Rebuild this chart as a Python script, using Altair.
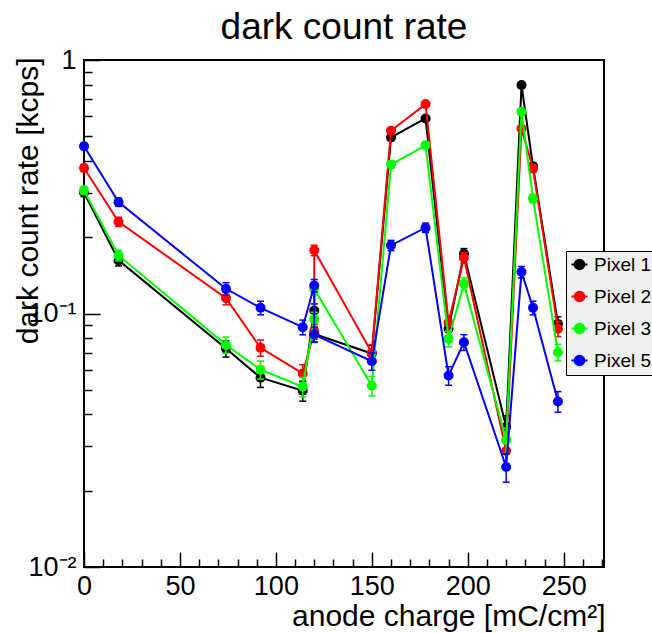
import altair as alt
import pandas as pd

# ---------------- data ----------------
charge = [0, 18, 74, 92, 114, 120, 120, 150, 160, 178, 190, 198, 220, 228, 234, 247]
series_names = ["Pixel 1", "Pixel 2", "Pixel 3", "Pixel 5"]
series_colors = ["#000000", "#ff0000", "#00ff00", "#0000ff"]

pixel1 = [0.300, 0.162, 0.0727, 0.0558, 0.0496, 0.1027, 0.083, 0.0695, 0.495, 0.588, 0.087, 0.172, 0.0357, 0.796, 0.381, 0.091]
pixel2 = [0.375, 0.230, 0.115, 0.0732, 0.058, 0.085, 0.1775, 0.070, 0.526, 0.670, 0.092, 0.166, 0.0287, 0.537, 0.373, 0.087]
pixel3 = [0.306, 0.1695, 0.0752, 0.060, 0.0514, 0.095, 0.125, 0.0519, 0.387, 0.461, 0.0794, 0.131, 0.0317, 0.625, 0.284, 0.0703]
pixel5 = [0.457, 0.275, 0.1252, 0.1053, 0.0883, 0.129, 0.0826, 0.0648, 0.1857, 0.218, 0.0569, 0.077, 0.0248, 0.1457, 0.1053, 0.045]

err1 = [0.011, 0.008, 0.0054, 0.0047, 0.0045, 0.0064, 0.0058, 0.0053, 0.014, 0.015, 0.0059, 0.0083, 0.0038, 0.018, 0.012, 0.006]
err2 = [0.0122, 0.0096, 0.0068, 0.0054, 0.0048, 0.0058, 0.0084, 0.0053, 0.0145, 0.0164, 0.0061, 0.0081, 0.0034, 0.0147, 0.0122, 0.0059]
err3 = [0.011, 0.0082, 0.0055, 0.0049, 0.0045, 0.0062, 0.0071, 0.0046, 0.0124, 0.0136, 0.0056, 0.0072, 0.0036, 0.0158, 0.0107, 0.0053]
err5 = [0.0135, 0.0105, 0.0071, 0.0065, 0.0059, 0.0072, 0.0057, 0.0051, 0.0086, 0.0093, 0.0048, 0.0055, 0.0032, 0.0076, 0.0065, 0.0042]

x_major = [0, 50, 100, 150, 200, 250]
x_minor = [10, 20, 30, 40, 60, 70, 80, 90, 110, 120, 130, 140, 160, 170, 180, 190,
           210, 220, 230, 240, 260, 270]
y_major = [0.01, 0.1, 1]
y_minor = [0.02, 0.03, 0.04, 0.05, 0.06, 0.07, 0.08, 0.09,
           0.2, 0.3, 0.4, 0.5, 0.6, 0.7, 0.8, 0.9]

# ---------------- table ----------------
rows = []
for name, vals, errs in zip(series_names, [pixel1, pixel2, pixel3, pixel5], [err1, err2, err3, err5]):
    for i, (c, v, e) in enumerate(zip(charge, vals, errs)):
        rows.append({"series": name, "idx": i, "charge": c, "rate": v, "lo": v - e, "hi": v + e})
df = pd.DataFrame(rows)

FONT = "Liberation Sans"
W, H = 520, 507

x_scale = alt.Scale(domain=[0, 271], nice=False, zero=False)
y_scale = alt.Scale(type="log", domain=[0.01, 1], nice=False)
color_scale = alt.Scale(domain=series_names, range=series_colors)

base = alt.Chart(df)

# ---------------- axis layers ----------------
label_x_axis = alt.Axis(
    orient="bottom", values=x_major, ticks=False, domain=False, grid=False,
    labelFontSize=27, labelFont=FONT, labelColor="black", labelPadding=6,
    labelFlush=False, labelOverlap=False,
    title="anode charge [mC/cm²]", titleFontSize=30, titleFont=FONT,
    titleFontWeight="normal", titleColor="black", titleAlign="right",
    titleBaseline="alphabetic", titleX=W + 1, titleY=58,
)
label_y_axis = alt.Axis(
    orient="left", values=y_major, ticks=False, domain=False, grid=False,
    labelExpr="datum.value >= 0.99 ? '1' : (datum.value >= 0.099 ? '10⁻¹' : '10⁻²')",
    labelFontSize=27, labelFont=FONT, labelColor="black", labelPadding=8,
    labelFlush=False, labelOverlap=False,
    title="dark count rate [kcps]", titleFontSize=30, titleFont=FONT,
    titleFontWeight="normal", titleColor="black", titleAngle=270,
    titleAlign="right", titleBaseline="alphabetic", titleX=-47, titleY=-3,
)


def tick_axis(orient, values, size):
    return alt.Axis(
        orient=orient, values=values, labels=False, domain=False, grid=False,
        ticks=True, tickSize=size, tickWidth=1.5, tickColor="black",
        offset=-size, title=None,
    )


def guide_layer(xa, ya):
    return base.mark_point(opacity=0).encode(
        x=alt.X("charge:Q", scale=x_scale, axis=xa),
        y=alt.Y("rate:Q", scale=y_scale, axis=ya),
    )


layers = [
    guide_layer(label_x_axis, label_y_axis),
    guide_layer(tick_axis("bottom", x_major, 15), tick_axis("left", y_major, 16)),
    guide_layer(tick_axis("bottom", x_minor, 8), tick_axis("left", y_minor, 8)),
]

# line with a filled-looking marker (concentric rings) as the legend symbol
legend_symbol = (
    "M -1 0 L 1 0 "
    "M -0.6 0 A 0.6 0.6 0 1 0 0.6 0 A 0.6 0.6 0 1 0 -0.6 0 "
    "M -0.42 0 A 0.42 0.42 0 1 0 0.42 0 A 0.42 0.42 0 1 0 -0.42 0 "
    "M -0.24 0 A 0.24 0.24 0 1 0 0.24 0 A 0.24 0.24 0 1 0 -0.24 0 "
    "M -0.08 0 A 0.08 0.08 0 1 0 0.08 0 A 0.08 0.08 0 1 0 -0.08 0"
)
legend_def = alt.Legend(
    title=None, orient="none", legendX=482, legendY=191,
    fillColor="#f0f0f0", strokeColor="black", padding=4,
    labelFontSize=19, labelFont=FONT, labelColor="black", labelOffset=5,
    symbolType=legend_symbol, symbolSize=256, symbolStrokeWidth=2,
    symbolOpacity=1, rowPadding=12,
)

X = alt.X("charge:Q", scale=x_scale, axis=None)
COL = alt.Color("series:N", scale=color_scale, legend=legend_def)

for name in series_names:
    sub = base.transform_filter(alt.datum.series == name)
    line = sub.mark_line(strokeWidth=2).encode(
        x=X, y=alt.Y("rate:Q", scale=y_scale, axis=None),
        color=COL, order=alt.Order("idx:Q"),
    )
    bar = sub.mark_rule(strokeWidth=1.5).encode(
        x=X, y=alt.Y("lo:Q", scale=y_scale, axis=None), y2="hi:Q",
        color=COL,
    )
    cap_lo = sub.mark_tick(orient="horizontal", size=7, thickness=1.5, opacity=1).encode(
        x=X, y=alt.Y("lo:Q", scale=y_scale, axis=None), color=COL,
    )
    cap_hi = sub.mark_tick(orient="horizontal", size=7, thickness=1.5, opacity=1).encode(
        x=X, y=alt.Y("hi:Q", scale=y_scale, axis=None), color=COL,
    )
    pts = sub.mark_circle(size=100, opacity=1).encode(
        x=X, y=alt.Y("rate:Q", scale=y_scale, axis=None),
        color=COL,
    )
    layers += [line, bar, cap_lo, cap_hi, pts]

chart = (
    alt.layer(*layers)
    .resolve_axis(x="independent", y="independent")
    .properties(
        width=W, height=H,
        title=alt.TitleParams("dark count rate", fontSize=37, font=FONT,
                              fontWeight="normal", color="black", anchor="middle",
                              dy=5),
        autosize=alt.AutoSizeParams(type="none"),
        padding={"left": 84, "top": 60, "right": 48, "bottom": 66},
        background="white",
    )
    .configure_view(stroke="black", strokeWidth=2)
)

chart.save("out.html", embed_options={"renderer": "svg", "actions": False})
